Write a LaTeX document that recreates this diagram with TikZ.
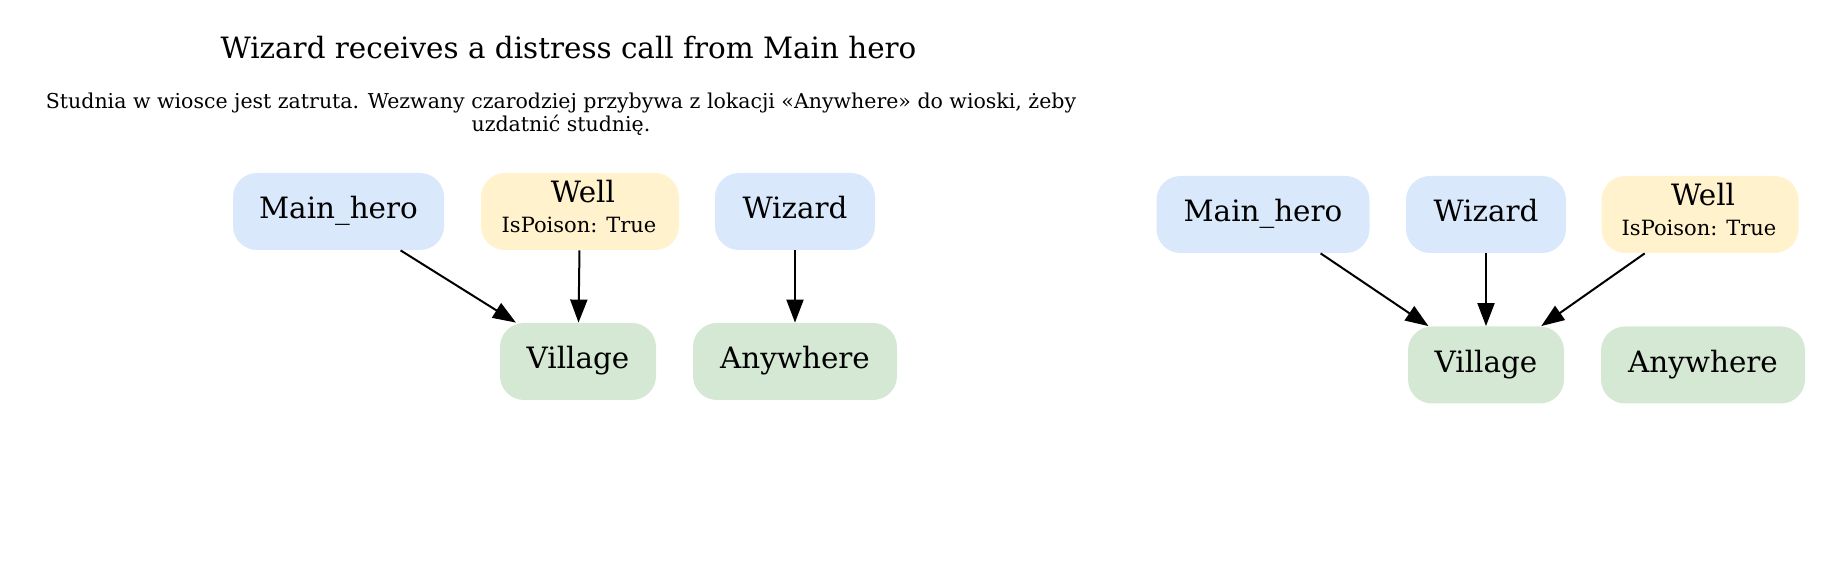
\documentclass[tikz,border=0pt]{standalone}
\usepackage{fontspec}
\setmainfont{DejaVu Serif}
\usetikzlibrary{arrows.meta}
\definecolor{agentblue}{HTML}{DAE8FC}
\definecolor{objyellow}{HTML}{FFF2CC}
\definecolor{placegreen}{HTML}{D5E8D4}
\begin{document}
\begin{tikzpicture}[x=0.5pt,y=-0.5pt,
  box/.style={rounded corners=12pt, inner sep=0pt, minimum height=38.5pt,
    font=\fontsize{14.7}{15}\selectfont, align=center},
  single/.style={box, text height=11pt, text depth=3.5pt},
  agent/.style={single, fill=agentblue},
  place/.style={single, fill=placegreen},
  obj/.style={box, fill=objyellow},
  small/.style={font=\fontsize{10.25}{11.5}\selectfont},
  link/.style={-{Triangle[length=11.5pt,width=8.5pt]}, line width=1pt}]
\useasboundingbox (0,0) rectangle (1832,581);
% title
\node[anchor=base, font=\fontsize{14.7}{16}\selectfont] (title) at (568.5,59) {Wizard receives a distress call from Main hero};
\node[small, align=center] (sub) at (561,114) {Studnia w wiosce jest zatruta. Wezwany czarodziej przybywa z lokacji «Anywhere» do wioski, żeby\\uzdatnić studnię.};
% left panel
\node[agent, minimum width=105.5pt] (hero1) at (338.5,211.5) {Main\_hero};
\node[obj, minimum width=99pt] (well1) at (580,211.5) {\kern3pt Well\\{\fontsize{10.5}{15}\selectfont IsPoison: True\kern1pt\rule[-4.7pt]{0pt}{4.7pt}}};
\node[agent, minimum width=80pt] (wiz1) at (795,211.5) {Wizard};
\node[place, minimum width=78pt] (vil1) at (578,361.5) {Village};
\node[place, minimum width=102pt] (any1) at (795,361.5) {Anywhere};
\draw[link] (hero1) -- (vil1);
\draw[link] (well1) -- (vil1);
\draw[link] (wiz1) -- (any1);
% right panel
\node[agent, minimum width=106.5pt] (hero2) at (1263,214.5) {Main\_hero};
\node[agent, minimum width=80pt] (wiz2) at (1486,214.5) {Wizard};
\node[obj, minimum width=98.5pt] (well2) at (1700,214.5) {\kern3pt Well\\{\fontsize{10.5}{15}\selectfont IsPoison: True\kern1pt\rule[-4.7pt]{0pt}{4.7pt}}};
\node[place, minimum width=78pt] (vil2) at (1486,365) {Village};
\node[place, minimum width=102pt] (any2) at (1703,365) {Anywhere};
\draw[link] (hero2) -- (vil2);
\draw[link] (wiz2) -- (vil2);
\draw[link] (well2) -- (vil2);
\end{tikzpicture}
\end{document}
